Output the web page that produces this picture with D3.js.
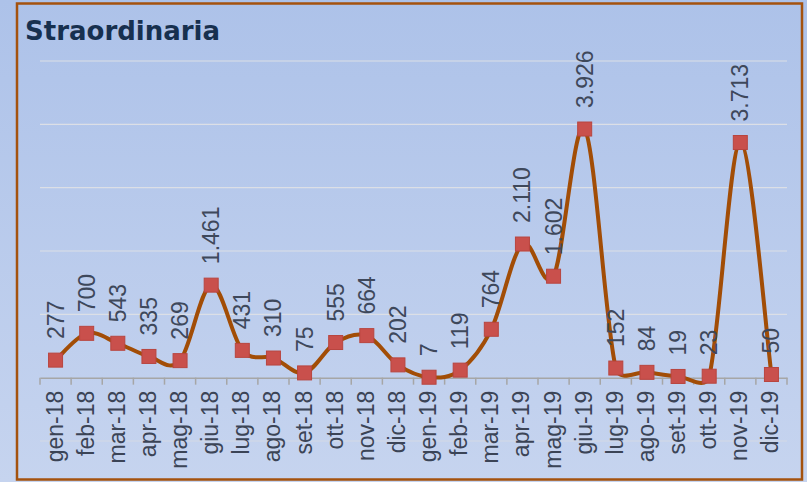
<!DOCTYPE html>
<html>
<head>
<meta charset="utf-8">
<script src="https://cdn.jsdelivr.net/npm/d3@7"></script>
<style>
  body { margin: 0; background: #b8c9eb; }
  svg { display: block; }
</style>
</head>
<body>
<div id="chart"></div>
<script>
    // Data
    const months = ["gen-18", "feb-18", "mar-18", "apr-18", "mag-18", "giu-18", "lug-18", "ago-18",
        "set-18", "ott-18", "nov-18", "dic-18", "gen-19", "feb-19", "mar-19", "apr-19", "mag-19",
        "giu-19", "lug-19", "ago-19", "set-19", "ott-19", "nov-19", "dic-19"];
    const values = [277, 700, 543, 335, 269, 1461, 431, 310, 75, 555, 664, 202, 7, 119, 764,
        2110, 1602, 3926, 152, 84, 19, 23, 3713, 50];
    const gridValues = [-1000, 0, 1000, 2000, 3000, 4000, 5000];

    const W = 807, H = 482;
    const fmt = d3.formatLocale({decimal: ",", thousands: ".", grouping: [3]}).format(",");

    const svg = d3.select("#chart")
        .append("svg")
        .attr("width", W)
        .attr("height", H);

    const defs = svg.append("defs");
    const grad = defs.append("linearGradient")
        .attr("id", "bg")
        .attr("x1", 0).attr("y1", 0).attr("x2", 0).attr("y2", 1);
    grad.append("stop").attr("offset", "0%").attr("stop-color", "#adc2e9");
    grad.append("stop").attr("offset", "100%").attr("stop-color", "#c6d4ef");

    svg.append("rect")
        .attr("width", W).attr("height", H)
        .attr("fill", "url(#bg)");

    // chart border
    svg.append("rect")
        .attr("x", 17).attr("y", 3.5)
        .attr("width", 785).attr("height", 476)
        .attr("fill", "none")
        .attr("stroke", "#a4520e")
        .attr("stroke-width", 2.5);

    svg.append("text")
        .attr("x", 25).attr("y", 40)
        .attr("font-family", "'DejaVu Sans', sans-serif")
        .attr("font-weight", "bold")
        .attr("font-size", 26)
        .attr("fill", "#17304f")
        .text("Straordinaria");

    const x = d3.scaleBand()
        .domain(months)
        .range([40, 787]);

    const y = d3.scaleLinear()
        .domain([-1000, 5000])
        .range([441, 61]);

    // gridlines
    svg.append("g")
        .selectAll("line")
        .data(gridValues.filter(v => v !== 0))
        .join("line")
        .attr("x1", 40).attr("x2", 787)
        .attr("y1", d => y(d)).attr("y2", d => y(d))
        .attr("stroke", d => d < 0 ? "#d3d9e6" : "#dcdfe6")
        .attr("stroke-width", 1.2);

    // category axis at zero
    const xAxis = svg.append("g")
        .attr("transform", "translate(0," + y(0) + ")")
        .call(d3.axisBottom(x).tickSize(0).tickFormat(""));
    xAxis.select(".domain").attr("stroke", "#a6a6a6").attr("stroke-width", 1.5);

    svg.append("g")
        .selectAll("line")
        .data(d3.range(months.length + 1))
        .join("line")
        .attr("x1", i => 40 + i * x.step()).attr("x2", i => 40 + i * x.step())
        .attr("y1", y(0)).attr("y2", y(0) + 7)
        .attr("stroke", "#a6a6a6")
        .attr("stroke-width", 1.5);

    const cx = d => x(d) + x.bandwidth() / 2;

    svg.append("g")
        .selectAll("text")
        .data(months)
        .join("text")
        .attr("transform", d => "translate(" + (cx(d) - 1) + "," + (y(0) + 13) + ") rotate(-90)")
        .attr("text-anchor", "end")
        .attr("dominant-baseline", "central")
        .attr("font-family", "'Liberation Sans', sans-serif")
        .attr("font-size", 23)
        .attr("fill", "#3b4456")
        .text(d => d);

    // Excel-like smoothing: catmull-rom bezier, handles capped at half a segment
    function smoothPath(pts) {
        const p = d3.path();
        const dist = (a, b) => Math.hypot(a[0] - b[0], a[1] - b[1]);
        p.moveTo(pts[0][0], pts[0][1]);
        for (let i = 0; i < pts.length - 1; i++) {
            const p0 = pts[Math.max(i - 1, 0)], p1 = pts[i], p2 = pts[i + 1], p3 = pts[Math.min(i + 2, pts.length - 1)];
            const d12 = dist(p1, p2), d02 = dist(p0, p2), d13 = dist(p1, p3);
            let f1 = 1 / 6, f2 = 1 / 6;
            if (d02 / 6 > d12 / 2) f1 = d12 / d02 / 2;
            if (d13 / 6 > d12 / 2) f2 = d12 / d13 / 2;
            p.bezierCurveTo(
                p1[0] + (p2[0] - p0[0]) * f1, p1[1] + (p2[1] - p0[1]) * f1,
                p2[0] - (p3[0] - p1[0]) * f2, p2[1] - (p3[1] - p1[1]) * f2,
                p2[0], p2[1]);
        }
        return p.toString();
    }

    const pts = values.map((d, i) => [cx(months[i]), y(d)]);

    svg.append("path")
        .attr("fill", "none")
        .attr("stroke", "#a24d06")
        .attr("stroke-width", 4)
        .attr("stroke-linejoin", "round")
        .attr("d", smoothPath(pts));

    svg.append("g")
        .selectAll("rect")
        .data(values)
        .join("rect")
        .attr("x", (d, i) => cx(months[i]) - 7)
        .attr("y", d => y(d) - 7)
        .attr("width", 14).attr("height", 14)
        .attr("fill", "#c9504c")
        .attr("stroke", "#b8453f")
        .attr("stroke-width", 1);

    // value labels
    svg.append("g")
        .selectAll("text")
        .data(values)
        .join("text")
        .attr("transform", (d, i) => "translate(" + cx(months[i]) + "," + (y(d) - 21) + ") rotate(-90)")
        .attr("text-anchor", "start")
        .attr("dominant-baseline", "central")
        .attr("font-family", "'Liberation Sans', sans-serif")
        .attr("font-size", 23)
        .attr("fill", "#3e485b")
        .text(d => fmt(d));
</script>
</body>
</html>
